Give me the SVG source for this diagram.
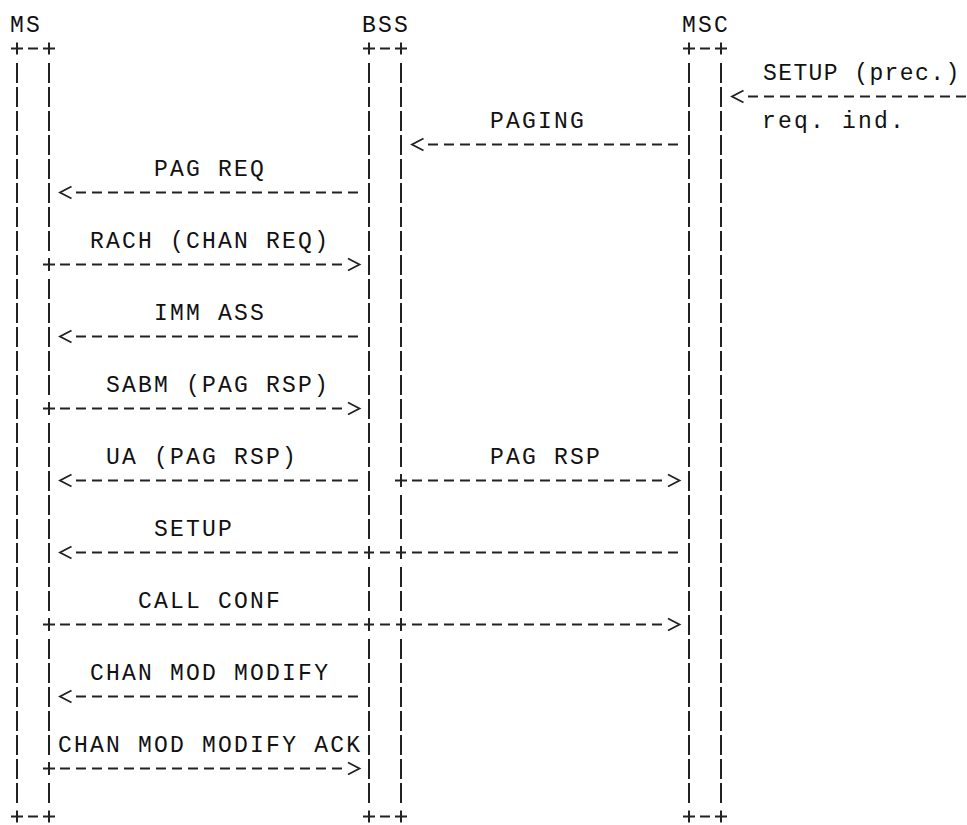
<svg xmlns="http://www.w3.org/2000/svg" xmlns:xlink="http://www.w3.org/1999/xlink" width="967" height="825" viewBox="0 0 967 825">
  <style>
    .bar{stroke:#222;stroke-width:2;stroke-dasharray:20 4;fill:none}
    .dash{stroke:#222;stroke-width:2;stroke-dasharray:10 6;fill:none}
    .mk{stroke:#222;stroke-width:1.8;fill:none}
    .lbl{font-family:"Liberation Mono","DejaVu Sans Mono",monospace;font-size:23px;letter-spacing:2.2px;fill:#111;white-space:pre}
    .tight{letter-spacing:1.4px}
  </style>
  <defs>
    <path id="cap" class="mk" d="M-6 0H6M0-6V6M11 0H21M26 0H38M32-6V6" style="stroke-width:2"/>
    <marker id="lt" markerUnits="userSpaceOnUse" orient="0" refX="0" refY="0" markerWidth="1" markerHeight="1" overflow="visible">
      <path class="mk" d="M-4.5-6L-16 0L-4.5 6"/>
    </marker>
    <marker id="gt" markerUnits="userSpaceOnUse" orient="0" refX="0" refY="0" markerWidth="1" markerHeight="1" overflow="visible">
      <path class="mk" d="M6-6L17.5 0L6 6"/>
    </marker>
    <marker id="plus" markerUnits="userSpaceOnUse" orient="0" refX="0" refY="0" markerWidth="1" markerHeight="1" overflow="visible">
      <path class="mk" style="stroke-width:2" d="M-17 0H-5M-11-6.5V6.5"/>
    </marker>
  </defs>

  <g id="ms">
    <text class="lbl" x="10.1" y="32">MS</text>
    <use xlink:href="#cap" x="17" y="48.5"/>
    <use xlink:href="#cap" x="17" y="816.5"/>
    <line class="bar" x1="17" y1="63" x2="17" y2="803"/>
    <line class="bar" x1="49" y1="63" x2="49" y2="251"/>
    <line class="bar" x1="49" y1="279" x2="49" y2="395"/>
    <line class="bar" x1="49" y1="423" x2="49" y2="611"/>
    <line class="bar" x1="49" y1="639" x2="49" y2="755"/>
    <line class="bar" x1="49" y1="783" x2="49" y2="803"/>
  </g>

  <g id="bss">
    <text class="lbl" x="362.1" y="32">BSS</text>
    <use xlink:href="#cap" x="369" y="48.5"/>
    <use xlink:href="#cap" x="369" y="816.5"/>
    <line class="bar" x1="369" y1="63" x2="369" y2="539"/>
    <line class="bar" x1="369" y1="567" x2="369" y2="611"/>
    <line class="bar" x1="369" y1="639" x2="369" y2="803"/>
    <line class="bar" x1="401" y1="63" x2="401" y2="467"/>
    <line class="bar" x1="401" y1="495" x2="401" y2="539"/>
    <line class="bar" x1="401" y1="567" x2="401" y2="611"/>
    <line class="bar" x1="401" y1="639" x2="401" y2="803"/>
  </g>

  <g id="msc">
    <text class="lbl" x="682.1" y="32">MSC</text>
    <use xlink:href="#cap" x="689" y="48.5"/>
    <use xlink:href="#cap" x="689" y="816.5"/>
    <line class="bar" x1="689" y1="63" x2="689" y2="803"/>
    <line class="bar" x1="721" y1="63" x2="721" y2="803"/>
  </g>

  <g id="connectors">
    <g id="msg-setup-prec">
      <text class="lbl tight" x="763" y="80">SETUP (prec.)</text>
      <line class="dash" x1="748" y1="96.5" x2="966" y2="96.5" marker-start="url(#lt)"/>
      <text class="lbl" x="762.1" y="128">req. ind.</text>
    </g>
    <g id="msg-paging">
      <text class="lbl" x="490.1" y="128">PAGING</text>
      <line class="dash" x1="428" y1="144.5" x2="678" y2="144.5" marker-start="url(#lt)"/>
    </g>
    <g id="msg-pag-req">
      <text class="lbl" x="154.1" y="176">PAG REQ</text>
      <line class="dash" x1="76" y1="192.5" x2="358" y2="192.5" marker-start="url(#lt)"/>
    </g>
    <g id="msg-rach">
      <text class="lbl" x="90.1" y="248">RACH (CHAN REQ)</text>
      <line class="dash" x1="60" y1="264.5" x2="342" y2="264.5" marker-start="url(#plus)" marker-end="url(#gt)"/>
    </g>
    <g id="msg-imm-ass">
      <text class="lbl" x="154.1" y="320">IMM ASS</text>
      <line class="dash" x1="76" y1="336.5" x2="358" y2="336.5" marker-start="url(#lt)"/>
    </g>
    <g id="msg-sabm">
      <text class="lbl" x="106.1" y="392">SABM (PAG RSP)</text>
      <line class="dash" x1="60" y1="408.5" x2="342" y2="408.5" marker-start="url(#plus)" marker-end="url(#gt)"/>
    </g>
    <g id="msg-ua">
      <text class="lbl" x="106.1" y="464">UA (PAG RSP)</text>
      <line class="dash" x1="76" y1="480.5" x2="358" y2="480.5" marker-start="url(#lt)"/>
    </g>
    <g id="msg-pag-rsp">
      <text class="lbl" x="490.1" y="464">PAG RSP</text>
      <line class="dash" x1="412" y1="480.5" x2="662" y2="480.5" marker-start="url(#plus)" marker-end="url(#gt)"/>
    </g>
    <g id="msg-setup">
      <text class="lbl" x="154.1" y="536">SETUP</text>
      <line class="dash" x1="76" y1="552.5" x2="678" y2="552.5" marker-start="url(#lt)"/>
      <path class="mk" style="stroke-width:2" d="M369 546V559M401 546V559"/>
    </g>
    <g id="msg-call-conf">
      <text class="lbl" x="138.1" y="608">CALL CONF</text>
      <line class="dash" x1="60" y1="624.5" x2="662" y2="624.5" marker-start="url(#plus)" marker-end="url(#gt)"/>
      <path class="mk" style="stroke-width:2" d="M369 618V631M401 618V631"/>
    </g>
    <g id="msg-chan-mod">
      <text class="lbl" x="90.1" y="680">CHAN MOD MODIFY</text>
      <line class="dash" x1="76" y1="696.5" x2="358" y2="696.5" marker-start="url(#lt)"/>
    </g>
    <g id="msg-chan-mod-ack">
      <text class="lbl" x="58.1" y="752">CHAN MOD MODIFY ACK</text>
      <line class="dash" x1="60" y1="768.5" x2="342" y2="768.5" marker-start="url(#plus)" marker-end="url(#gt)"/>
    </g>
  </g>
</svg>
